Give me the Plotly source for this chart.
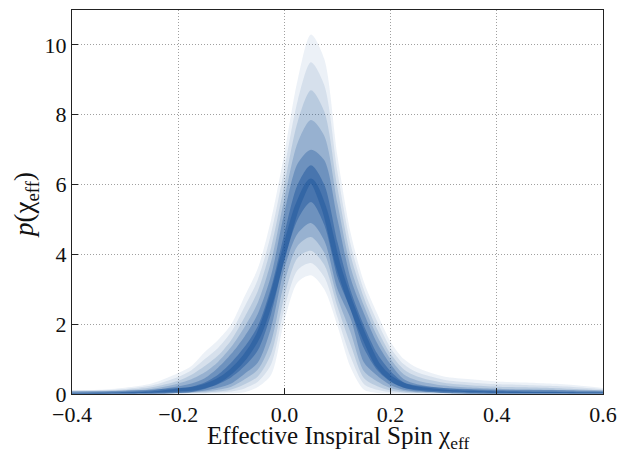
import plotly.graph_objects as go

# x grid for the posterior band curves (chi_eff)
x = [-0.4, -0.35, -0.3, -0.25, -0.2, -0.175, -0.15, -0.125, -0.1, -0.075,
     -0.05, -0.025, 0.0, 0.025, 0.05, 0.075, 0.1, 0.125, 0.15, 0.175,
     0.2, 0.225, 0.25, 0.3, 0.35, 0.4, 0.45, 0.5, 0.55, 0.6]

# quantile curves of p(chi_eff) (outer -> inner)
q_lo3 = [0.003, 0.003, 0.004, 0.005, 0.006, 0.008, 0.01, 0.015, 0.02, 0.05,
         0.2, 0.55, 2.1, 3.2, 3.4, 3.0, 1.95, 0.75, 0.12, 0.03,
         0.01, 0.008, 0.006, 0.005, 0.004, 0.004, 0.004, 0.004, 0.004, 0.004]
q_lo25 = [0.004, 0.004, 0.006, 0.007, 0.012, 0.018, 0.024, 0.04, 0.07, 0.16,
          0.35, 0.85, 2.45, 3.55, 3.75, 3.35, 2.2, 1.05, 0.28, 0.12,
          0.05, 0.03, 0.02, 0.015, 0.01, 0.008, 0.008, 0.008, 0.008, 0.008]
q_lo2 = [0.005, 0.005, 0.01, 0.01, 0.02, 0.03, 0.04, 0.07, 0.13, 0.28,
         0.5, 1.15, 2.8, 3.9, 4.1, 3.7, 2.5, 1.4, 0.45, 0.22,
         0.1, 0.05, 0.03, 0.02, 0.01, 0.01, 0.01, 0.01, 0.01, 0.01]
q_lo15 = [0.008, 0.008, 0.012, 0.015, 0.03, 0.045, 0.07, 0.12, 0.21, 0.42,
          0.7, 1.5, 3.2, 4.25, 4.5, 4.05, 2.75, 1.75, 0.65, 0.36,
          0.17, 0.085, 0.05, 0.03, 0.02, 0.015, 0.015, 0.015, 0.015, 0.015]
q_lo1 = [0.01, 0.01, 0.015, 0.02, 0.04, 0.06, 0.1, 0.18, 0.3, 0.58,
         0.9, 1.9, 3.6, 4.6, 4.9, 4.4, 3.0, 2.15, 0.9, 0.52,
         0.25, 0.12, 0.07, 0.04, 0.03, 0.02, 0.02, 0.02, 0.02, 0.02]
q_lo0 = [0.015, 0.015, 0.02, 0.035, 0.07, 0.09, 0.16, 0.28, 0.48, 0.8,
         1.25, 2.3, 3.85, 5.0, 5.5, 4.85, 3.35, 2.4, 1.3, 0.68,
         0.35, 0.18, 0.12, 0.07, 0.05, 0.035, 0.03, 0.03, 0.025, 0.025]
q_med = [0.02, 0.02, 0.03, 0.05, 0.1, 0.13, 0.22, 0.38, 0.65, 1.05,
         1.65, 2.7, 4.1, 5.4, 6.1, 5.3, 3.75, 2.6, 1.65, 0.85,
         0.45, 0.25, 0.17, 0.1, 0.07, 0.05, 0.04, 0.04, 0.03, 0.03]
q_hi0 = [0.025, 0.03, 0.045, 0.075, 0.16, 0.21, 0.33, 0.55, 0.9, 1.35,
         1.95, 3.05, 4.6, 6.0, 6.55, 6.0, 4.35, 2.95, 1.95, 1.15,
         0.65, 0.33, 0.22, 0.13, 0.09, 0.07, 0.06, 0.055, 0.045, 0.04]
q_hi1 = [0.03, 0.04, 0.06, 0.1, 0.22, 0.3, 0.45, 0.75, 1.15, 1.65,
         2.3, 3.4, 5.2, 6.6, 7.0, 6.7, 5.0, 3.3, 2.3, 1.45,
         0.85, 0.42, 0.28, 0.17, 0.12, 0.09, 0.08, 0.07, 0.06, 0.05]
q_hi15 = [0.045, 0.055, 0.085, 0.14, 0.3, 0.42, 0.62, 0.92, 1.35, 1.92,
          2.62, 3.8, 5.6, 7.2, 7.85, 7.4, 5.45, 3.62, 2.52, 1.65,
          1.0, 0.56, 0.39, 0.245, 0.185, 0.15, 0.135, 0.12, 0.1, 0.075]
q_hi2 = [0.06, 0.07, 0.11, 0.19, 0.38, 0.55, 0.8, 1.1, 1.55, 2.2,
         2.95, 4.2, 6.0, 7.8, 8.7, 8.1, 5.9, 3.95, 2.75, 1.85,
         1.15, 0.7, 0.5, 0.32, 0.25, 0.21, 0.19, 0.17, 0.14, 0.1]
q_hi25 = [0.08, 0.095, 0.145, 0.245, 0.49, 0.68, 1.0, 1.32, 1.78, 2.5,
          3.28, 4.6, 6.45, 8.4, 9.5, 8.85, 6.35, 4.27, 2.97, 2.07,
          1.32, 0.85, 0.62, 0.41, 0.33, 0.28, 0.26, 0.235, 0.195, 0.135]
q_hi3 = [0.1, 0.12, 0.18, 0.3, 0.6, 0.8, 1.2, 1.55, 2.0, 2.8,
         3.6, 5.0, 6.9, 9.0, 10.3, 9.6, 6.8, 4.6, 3.2, 2.3,
         1.5, 1.0, 0.75, 0.5, 0.42, 0.36, 0.33, 0.3, 0.25, 0.17]

x_ticks = [-0.4, -0.2, 0.0, 0.2, 0.4, 0.6]
x_ticktext = ["\u22120.4", "\u22120.2", "0.0", "0.2", "0.4", "0.6"]
y_ticks = [0, 2, 4, 6, 8, 10]
x_title = "Effective Inspiral Spin χ<sub>eff</sub>"
y_title = "<i>p</i>(χ<sub>eff</sub>)"

bands = [(q_lo3, q_hi3, 0.08), (q_lo25, q_hi25, 0.10), (q_lo2, q_hi2, 0.14),
         (q_lo15, q_hi15, 0.20), (q_lo1, q_hi1, 0.30), (q_lo0, q_hi0, 0.40)]
base = "15,75,150"

fig = go.Figure()
line_style = dict(width=0, shape="spline", smoothing=0.8)
for lo, hi, a in bands:
    fig.add_trace(go.Scatter(x=x, y=lo, mode="lines", line=line_style,
                             hoverinfo="skip", showlegend=False))
    fig.add_trace(go.Scatter(x=x, y=hi, mode="lines", line=line_style,
                             fill="tonexty", fillcolor=f"rgba({base},{a})",
                             hoverinfo="skip", showlegend=False))
# darkest core around the median
fig.add_trace(go.Scatter(x=x, y=q_med, mode="lines",
                         line=dict(width=5, shape="spline", smoothing=0.8, color=f"rgba({base},0.35)"),
                         hoverinfo="skip", showlegend=False))

font_family = "Liberation Serif, DejaVu Serif, serif"
axis_common = dict(showline=True, linecolor="#222", linewidth=1.3, mirror=True,
                   ticks="inside", ticklen=6, tickwidth=1.3, tickcolor="#222",
                   showgrid=True, gridcolor="#a0a0a0", griddash="1px,2px", gridwidth=1,
                   zeroline=False, automargin=False, ticklabeloverflow="allow",
                   tickfont=dict(family=font_family, size=22, color="#111"))

fig.update_layout(
    width=617, height=452,
    margin=dict(l=72, r=14, t=10, b=58),
    plot_bgcolor="white", paper_bgcolor="white",
    font=dict(family=font_family, color="#111"),
    xaxis=dict(range=[-0.4, 0.6], tickvals=x_ticks, ticktext=x_ticktext, **axis_common),
    yaxis=dict(range=[0, 11], tickvals=y_ticks, **axis_common),
    annotations=[
        dict(text=x_title, xref="paper", yref="paper", x=0.5, y=-(437 - 394) / 384,
             xanchor="center", yanchor="middle", showarrow=False,
             font=dict(family=font_family, size=25, color="#111")),
        dict(text=y_title, xref="paper", yref="paper", x=-(72 - 26) / 531, y=(394 - 205) / 384,
             xanchor="center", yanchor="middle", showarrow=False, textangle=-90,
             font=dict(family=font_family, size=27, color="#111")),
    ],
)

fig.write_html("out.html")
